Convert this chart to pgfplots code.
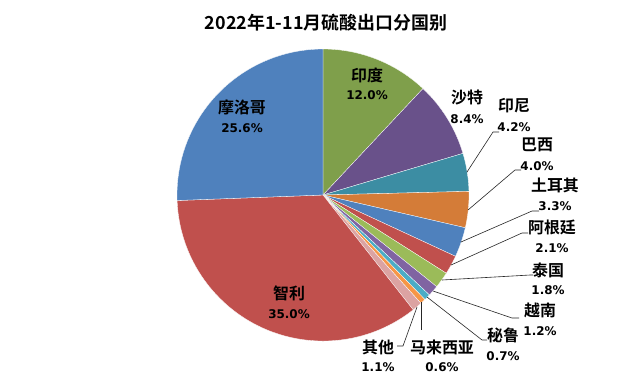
\documentclass[border=0pt]{standalone}
\usepackage{pgfplots}
\pgfplotsset{compat=1.18}
\usepackage{fontspec}
\newfontfamily\cjk{Noto Sans CJK SC}[UprightFont={* Bold}]
\newfontfamily\pct{DejaVu Sans}[UprightFont={* Bold}]
\definecolor{cIndia}{HTML}{7F9F4B}
\definecolor{cSaudi}{HTML}{69518A}
\definecolor{cIndo}{HTML}{3C8DA3}
\definecolor{cBrazil}{HTML}{D47C38}
\definecolor{cBlue}{HTML}{4F81BD}
\definecolor{cRed}{HTML}{C0504D}
\definecolor{cGreen}{HTML}{9BBB59}
\definecolor{cPurple}{HTML}{8064A2}
\definecolor{cTeal}{HTML}{4BACC6}
\definecolor{cOrange}{HTML}{F79646}
\definecolor{cPink}{HTML}{DCA3A2}
\begin{document}
\begin{tikzpicture}
\begin{axis}[x=1bp,y=1bp,xmin=0,xmax=624,ymin=0,ymax=378,y dir=reverse,
  enlargelimits=false,hide axis,clip=false]
\fill[white] (axis cs:0,0) rectangle (axis cs:624,378);
% shares in percent, clockwise from 12 o'clock
\xdef\curang{90}
\foreach \v/\c in {12.0/cIndia, 8.4/cSaudi, 4.2/cIndo, 4.0/cBrazil, 3.3/cBlue,
  2.1/cRed, 1.8/cGreen, 1.2/cPurple, 0.7/cTeal, 0.6/cOrange, 1.1/cPink,
  35.0/cRed, 25.6/cBlue}{
  \pgfmathsetmacro\endang{\curang-3.6*\v}
  \edef\temp{\noexpand\fill[\c, draw=white, line width=0.3bp] (axis cs:323,195) -- ++(\curang:146bp) arc[start angle=\curang, end angle=\endang, radius=146bp] -- cycle;}
  \temp
  \xdef\curang{\endang}
}
\node[font=\cjk\fontsize{18}{20}\selectfont] at (axis cs:326,23) {2022年1-11月硫酸出口分国别};
% leader lines
\tikzset{ld/.style={draw=black!85, line width=0.6bp}}
\draw[ld] (axis cs:467,172) -- (axis cs:493,132) -- (axis cs:499,132);
\draw[ld] (axis cs:468,210) -- (axis cs:515,170) -- (axis cs:521,170);
\draw[ld] (axis cs:461,242) -- (axis cs:532,211) -- (axis cs:539,211);
\draw[ld] (axis cs:451,265) -- (axis cs:522,233) -- (axis cs:528,233);
\draw[ld] (axis cs:442,280) -- (axis cs:530,275) -- (axis cs:533,275);
\draw[ld] (axis cs:433,291) -- (axis cs:512,318) -- (axis cs:519,318);
\draw[ld] (axis cs:427,297) -- (axis cs:482,340) -- (axis cs:487,340);
\draw[ld] (axis cs:421,302) -- (axis cs:421,330);
\draw[ld] (axis cs:417,307) -- (axis cs:403,346) -- (axis cs:397,346);
% labels
\tikzset{nm/.style={font=\cjk\fontsize{16}{18}\selectfont, inner sep=0pt},
         pc/.style={font=\pct\fontsize{12}{14}\selectfont, inner sep=0pt}}
\node[nm] at (axis cs:242,107) {摩洛哥}; \node[pc] at (axis cs:242,128) {25.6\%};
\node[nm] at (axis cs:367,75) {印度}; \node[pc] at (axis cs:367,95) {12.0\%};
\node[nm] at (axis cs:467,98) {沙特}; \node[pc] at (axis cs:467,119) {8.4\%};
\node[nm] at (axis cs:514,106) {印尼}; \node[pc] at (axis cs:514,127) {4.2\%};
\node[nm] at (axis cs:537,145) {巴西}; \node[pc] at (axis cs:537,166) {4.0\%};
\node[nm] at (axis cs:555,185) {土耳其}; \node[pc] at (axis cs:555,206) {3.3\%};
\node[nm] at (axis cs:552,227) {阿根廷}; \node[pc] at (axis cs:552,248) {2.1\%};
\node[nm] at (axis cs:548,270) {泰国}; \node[pc] at (axis cs:548,290) {1.8\%};
\node[nm] at (axis cs:540,310) {越南}; \node[pc] at (axis cs:540,331) {1.2\%};
\node[nm] at (axis cs:503,335) {秘鲁}; \node[pc] at (axis cs:503,356) {0.7\%};
\node[nm] at (axis cs:442,347) {马来西亚}; \node[pc] at (axis cs:442,367) {0.6\%};
\node[nm] at (axis cs:378,347) {其他}; \node[pc] at (axis cs:378,367) {1.1\%};
\node[nm] at (axis cs:289,293) {智利}; \node[pc] at (axis cs:289,314) {35.0\%};
\end{axis}
\end{tikzpicture}
\end{document}
